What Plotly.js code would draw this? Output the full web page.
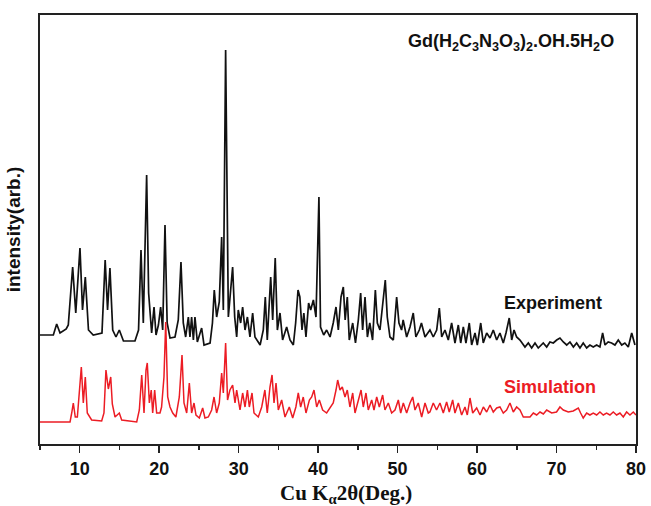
<!DOCTYPE html>
<html>
<head>
<meta charset="utf-8">
<script src="https://cdn.plot.ly/plotly-3.0.1.min.js"></script>
<style>
  html, body { margin: 0; padding: 0; background: #fff; }
  #chart { width: 651px; height: 506px; }
</style>
</head>
<body>
<div id="chart"></div>
<script>
// Powder XRD patterns of Gd(H2C3N3O3)2.OH.5H2O, Cu Kα, 2θ in degrees.
// Intensities are in arbitrary units; the simulated trace sits below the measured one.

const expTwoTheta = [
  5.0, 6.68, 7.1, 7.52, 8.3, 8.56, 9.11, 9.5, 10.03, 10.35, 10.7, 11.1, 11.7, 12.8,
  13.2, 13.5, 13.8, 14.15, 14.56, 14.98, 15.5, 16.95, 17.4, 17.71, 18.0, 18.42, 18.67,
  19.05, 19.35, 19.6, 19.9, 20.18, 20.44, 20.73, 21.0, 21.36, 21.99, 22.4, 22.74, 23.03,
  23.33, 23.67, 23.87, 24.08, 24.3, 24.5, 24.8, 25.34, 25.64, 26.4, 26.7, 26.93, 27.23,
  27.56, 27.86, 28.07, 28.36, 28.7, 29.24, 29.5, 29.75, 29.95, 30.25, 30.5, 30.8, 31.1,
  31.42, 31.76, 32.05, 32.7, 33.1, 33.35, 33.6, 34.03, 34.28, 34.6, 34.87, 35.2, 35.53,
  36.04, 36.46, 36.88, 37.17, 37.47, 37.7, 37.97, 38.2, 38.47, 38.8, 39.06, 39.4, 39.73,
  40.1, 40.3, 40.7, 41.07, 41.5, 41.9, 42.25, 42.54, 42.88, 43.17, 43.4, 43.67, 43.92,
  44.35, 44.7, 45.06, 45.35, 45.6, 45.9, 46.2, 46.5, 46.85, 47.2, 47.45, 47.78, 48.1,
  48.45, 48.7, 49.04, 49.46, 49.88, 50.17, 50.5, 50.7, 51.14, 51.56, 51.97, 52.3, 52.73,
  53.0, 53.45, 54.07, 54.49, 54.92, 55.25, 55.55, 55.96, 56.38, 56.8, 57.22, 57.64,
  57.94, 58.27, 58.6, 59.02, 59.32, 59.74, 60.03, 60.46, 60.78, 61.21, 61.63, 62.04,
  62.47, 62.88, 63.3, 63.64, 64.05, 64.36, 64.65, 64.98, 65.4, 66.03, 66.45, 66.87,
  67.29, 67.7, 68.33, 68.76, 69.17, 69.59, 70.02, 70.43, 70.85, 71.28, 71.69, 72.12,
  72.53, 72.95, 73.36, 73.79, 74.2, 74.62, 75.05, 75.46, 75.8, 76.1, 76.5, 76.93, 77.35,
  77.77, 78.2, 78.6, 79.03, 79.46, 79.87
];
const expIntensity = [
  109, 109, 120, 111, 115, 119, 177, 131, 196, 134, 167, 114, 109, 111,
  184, 134, 176, 114, 107, 114, 103, 103, 114, 194, 121, 269, 151,
  111, 137, 109, 119, 137, 114, 219, 121, 106, 107, 124, 182, 121,
  107, 127, 107, 127, 104, 127, 102, 116, 99, 101, 121, 154, 127,
  142, 207, 134, 394, 127, 177, 127, 107, 134, 121, 137, 114, 127,
  107, 131, 107, 99, 114, 147, 104, 167, 124, 186, 114, 131, 104,
  117, 104, 99, 121, 154, 147, 114, 131, 107, 141, 134, 144, 127,
  247, 117, 109, 114, 107, 121, 137, 114, 147, 157, 124, 147, 104,
  121, 101, 124, 151, 114, 147, 107, 121, 104, 154, 121, 114, 137,
  164, 127, 107, 104, 147, 121, 114, 124, 107, 117, 131, 107, 114,
  121, 107, 114, 107, 114, 136, 107, 114, 104, 121, 101, 119,
  101, 117, 101, 121, 99, 111, 99, 121, 101, 111, 106, 114,
  104, 111, 101, 111, 126, 104, 114, 107, 104, 97, 101, 96,
  101, 96, 101, 97, 102, 101, 104, 106, 102, 99, 102, 97,
  101, 96, 101, 96, 99, 97, 99, 97, 111, 99, 102, 101, 99,
  104, 99, 101, 97, 111, 99
];

const simTwoTheta = [
  5.0, 8.78, 8.99, 9.19, 9.44, 9.7, 10.2, 10.45, 10.7, 10.95, 11.5, 12.76, 13.05, 13.3,
  13.6, 13.9, 14.1, 14.44, 14.98, 15.28, 17.17, 17.5, 17.8, 18.09, 18.34, 18.5, 18.76,
  19.0, 19.18, 19.43, 19.68, 20.1, 20.3, 20.6, 20.82, 21.07, 21.36, 21.7, 22.1, 22.53,
  22.87, 23.12, 23.46, 23.79, 24.08, 24.38, 24.63, 25.05, 25.47, 25.76, 26.18, 26.6,
  26.9, 27.23, 27.56, 27.86, 28.07, 28.36, 28.6, 28.9, 29.24, 29.54, 29.75, 30.17, 30.5,
  30.8, 31.1, 31.34, 31.68, 31.93, 32.47, 32.9, 33.3, 33.6, 33.94, 34.2, 34.45, 34.7,
  34.99, 35.41, 35.83, 36.37, 36.8, 37.2, 37.5, 37.8, 38.13, 38.47, 38.9, 39.19, 39.48,
  39.82, 40.15, 40.57, 41.07, 41.49, 41.9, 42.25, 42.46, 42.75, 43.04, 43.38, 43.67,
  44.0, 44.35, 44.64, 45.06, 45.4, 45.68, 46.02, 46.31, 46.74, 47.03, 47.37, 47.7,
  48.12, 48.41, 48.83, 49.25, 49.67, 50.09, 50.39, 50.72, 51.14, 51.56, 51.9, 52.19,
  52.6, 53.03, 53.45, 53.86, 54.07, 54.49, 54.9, 55.33, 55.75, 56.17, 56.5, 56.93,
  57.22, 57.64, 58.06, 58.48, 58.77, 59.11, 59.45, 59.95, 60.37, 60.79, 61.21, 61.63,
  62.04, 62.47, 62.88, 63.3, 63.72, 64.14, 64.56, 64.98, 65.4, 65.82, 66.66, 67.08,
  67.5, 67.92, 68.34, 68.76, 69.39, 70.0, 70.43, 70.85, 71.48, 72.1, 72.74, 73.03,
  73.36, 73.79, 74.2, 74.62, 75.05, 75.46, 75.88, 76.3, 76.72, 77.14, 77.56, 77.98,
  78.4, 78.82, 79.24, 79.66, 80.0
];
const simIntensity = [
  22, 22, 31, 41, 27, 27, 77, 41, 67, 31, 24, 23, 31, 74,
  55, 67, 40, 27, 31, 24, 22, 34, 69, 31, 74, 81, 41,
  54, 31, 54, 31, 31, 37, 67, 122, 47, 37, 31, 27, 47,
  89, 41, 31, 61, 31, 41, 29, 26, 36, 26, 27, 34,
  47, 31, 41, 71, 51, 101, 44, 54, 59, 41, 54, 34, 51,
  37, 54, 37, 51, 31, 27, 37, 54, 31, 57, 69, 41, 61,
  34, 44, 27, 37, 26, 37, 51, 37, 47, 31, 44, 47, 54,
  37, 44, 34, 31, 36, 41, 54, 64, 54, 57, 47, 54,
  37, 51, 31, 44, 54, 37, 51, 34, 44, 34, 47, 37,
  49, 34, 41, 31, 34, 44, 31, 41, 31, 41, 47, 34,
  41, 27, 41, 31, 32, 41, 34, 41, 31, 42, 32, 44,
  31, 41, 29, 37, 29, 46, 31, 36, 29, 37, 32, 39,
  32, 36, 37, 31, 34, 41, 32, 37, 34, 27, 27, 31,
  29, 32, 30, 34, 31, 32, 37, 34, 32, 33, 36, 31,
  26, 31, 29, 31, 29, 32, 29, 31, 29, 32, 29, 31,
  27, 32, 29, 32, 29
];

const xTickVals = [10, 20, 30, 40, 50, 60, 70, 80];
const xTickText = ['10', '20', '30', '40', '50', '60', '70', '80'];

const sansBold = { family: 'Arial, "Liberation Sans", sans-serif', weight: 'bold' };
const serifBold = { family: '"Times New Roman", "Liberation Serif", serif', weight: 'bold' };

const traces = [
  {
    x: expTwoTheta, y: expIntensity, type: 'scatter', mode: 'lines', name: 'Experiment',
    line: { color: '#111111', width: 1.7 }, hoverinfo: 'x+y'
  },
  {
    x: simTwoTheta, y: simIntensity, type: 'scatter', mode: 'lines', name: 'Simulation',
    line: { color: '#ec1c24', width: 1.5 }, hoverinfo: 'x+y'
  }
];

const layout = {
  width: 651, height: 506,
  margin: { l: 40, r: 15, t: 15, b: 62 },
  paper_bgcolor: '#ffffff', plot_bgcolor: '#ffffff',
  showlegend: false,
  xaxis: {
    range: [5, 80],
    tickmode: 'array', tickvals: xTickVals, ticktext: xTickText,
    ticks: 'outside', ticklen: 7, tickwidth: 1.5, tickcolor: '#222',
    minor: { dtick: 5, tick0: 0, ticks: 'outside', ticklen: 4, tickwidth: 1.5, tickcolor: '#222' },
    showline: true, linecolor: '#222', linewidth: 2, mirror: true,
    showgrid: false, zeroline: false,
    tickfont: Object.assign({ size: 18, color: '#111' }, sansBold)
  },
  yaxis: {
    range: [0, 429],
    showticklabels: false, ticks: '',
    showline: true, linecolor: '#222', linewidth: 2, mirror: true,
    showgrid: false, zeroline: false,
    title: {
      text: 'intensity(arb.)',
      font: Object.assign({ size: 19, color: '#111' }, sansBold),
      standoff: 12
    }
  },
  annotations: [
    {
      // x-axis title
      text: 'Cu K<sub>α</sub>2θ(Deg.)',
      xref: 'paper', yref: 'paper', x: 0.513, y: -0.116, xanchor: 'center', yanchor: 'middle',
      showarrow: false, font: Object.assign({ size: 21, color: '#111' }, serifBold)
    },
    {
      text: 'Gd(H<sub>2</sub>C<sub>3</sub>N<sub>3</sub>O<sub>3</sub>)<sub>2</sub>.OH.5H<sub>2</sub>O',
      xref: 'paper', yref: 'paper', x: 0.966, y: 0.935, xanchor: 'right', yanchor: 'middle',
      showarrow: false, font: Object.assign({ size: 18, color: '#111' }, sansBold)
    },
    {
      text: 'Experiment',
      xref: 'paper', yref: 'paper', x: 0.86, y: 0.328, xanchor: 'center', yanchor: 'middle',
      showarrow: false, font: Object.assign({ size: 18, color: '#111' }, sansBold)
    },
    {
      text: 'Simulation',
      xref: 'paper', yref: 'paper', x: 0.856, y: 0.133, xanchor: 'center', yanchor: 'middle',
      showarrow: false, font: Object.assign({ size: 18, color: '#ec1c24' }, sansBold)
    }
  ]
};

Plotly.newPlot('chart', traces, layout, { displayModeBar: false, staticPlot: true });
</script>
</body>
</html>
